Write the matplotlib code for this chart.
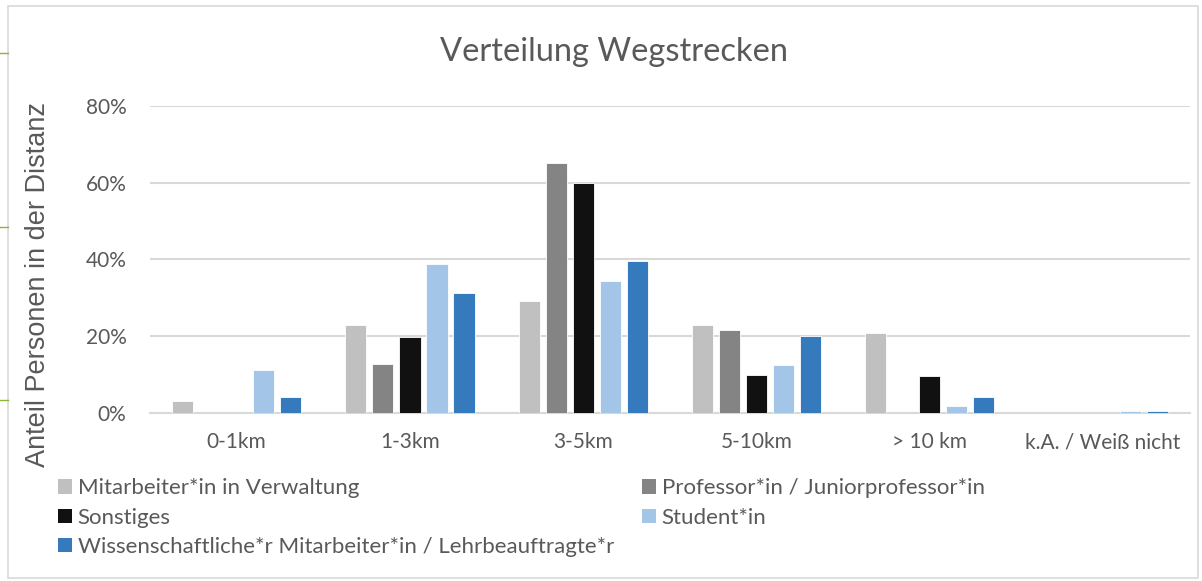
import numpy as np
import matplotlib
matplotlib.use("Agg")
from matplotlib import pyplot as plt
from matplotlib.patches import Patch, Rectangle
from matplotlib.lines import Line2D
from matplotlib.ticker import FuncFormatter

categories = ["0-1km", "1-3km", "3-5km", "5-10km", "> 10 km", "k.A. / Weiß nicht"]
series_names = ["Mitarbeiter*in in Verwaltung", "Professor*in / Juniorprofessor*in",
                "Sonstiges", "Student*in",
                "Wissenschaftliche*r Mitarbeiter*in / Lehrbeauftragte*r"]
verwaltung = [0.031, 0.229, 0.292, 0.229, 0.208, 0.0]
professor = [0.0, 0.128, 0.651, 0.216, 0.0, 0.0]
sonstiges = [0.0, 0.198, 0.599, 0.099, 0.097, 0.0]
student = [0.112, 0.388, 0.344, 0.125, 0.018, 0.006]
wiss = [0.042, 0.313, 0.396, 0.201, 0.042, 0.006]
colors = ["#C0C0C0", "#848484", "#111111", "#A3C6E8", "#357ABD"]

plt.rcParams['font.family'] = ['Lato', 'DejaVu Sans']
txt = "#595959"

fig = plt.figure(figsize=(12.02, 5.81), dpi=100)
ax = fig.add_axes([0.1248, 0.2892, 0.865, 0.5284])

x = np.arange(len(categories))
step = 0.156
width = 0.122
data = [verwaltung, professor, sonstiges, student, wiss]
for i, vals in enumerate(data):
    ax.bar(x + (i - 2) * step, vals, width, color=colors[i],
           edgecolor="white", linewidth=0.6, zorder=3)

ax.set_xlim(-0.5, len(categories) - 0.5)
ax.set_ylim(0, 0.8)
ax.set_yticks([0, 0.2, 0.4, 0.6, 0.8])
ax.yaxis.set_major_formatter(FuncFormatter(lambda v, p: f"{v*100:.0f}%"))
ax.set_xticks(x)
ax.set_xticklabels(categories)
ax.grid(axis="y", color="#D9D9D9", linewidth=1.5, zorder=0)
for s in ["top", "right", "left"]:
    ax.spines[s].set_visible(False)
ax.spines["bottom"].set_color("#D9D9D9")
ax.spines["bottom"].set_linewidth(1.5)
ax.tick_params(axis="both", length=0, labelsize=15, colors=txt)
ax.tick_params(axis="x", pad=14)
ax.tick_params(axis="y", pad=17)

ax.set_ylabel("Anteil Personen in der Distanz", fontsize=19.5, color=txt,
              family=["Liberation Sans", "DejaVu Sans"])
ax.yaxis.set_label_coords(-0.095, 0.42)
fig.text(0.511, 0.91, "Verteilung Wegstrecken", ha="center", va="center",
         fontsize=23.5, color=txt)

# legend in two blocks like the Excel layout
def handles(idx):
    return [Patch(facecolor=colors[i], edgecolor="none") for i in idx]

leg_kw = dict(frameon=False, fontsize=16, handlelength=0.62, handleheight=0.62,
              handletextpad=0.25, labelspacing=0.42, borderaxespad=0, labelcolor=txt)
fig.legend(handles([0, 2, 4]), [series_names[i] for i in [0, 2, 4]],
           loc="upper left", bbox_to_anchor=(0.041, 0.192), **leg_kw)
fig.legend(handles([1, 3]), [series_names[i] for i in [1, 3]],
           loc="upper left", bbox_to_anchor=(0.527, 0.192), **leg_kw)

# chart border and sheet lines
fig.patches.append(Rectangle((0.007, 0.005), 0.99, 0.985, transform=fig.transFigure,
                             fill=False, edgecolor="#D9D9D9", linewidth=1.2))
for yy in [53, 227, 400]:
    fig.lines.append(Line2D([0, 0.007], [1 - yy / 581, 1 - yy / 581],
                            transform=fig.transFigure, color="#8DB33A", linewidth=1))

fig.savefig("out.png", dpi=100)
